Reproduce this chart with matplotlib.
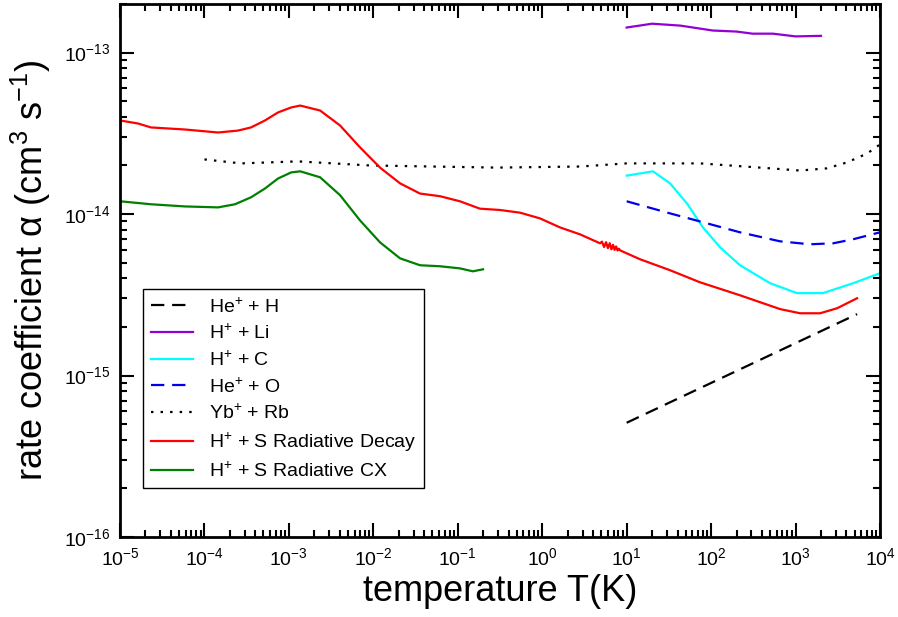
import math
import matplotlib
matplotlib.use("Agg")
import matplotlib.pyplot as plt
from matplotlib.ticker import FixedLocator, NullFormatter, FuncFormatter

plt.rcParams['font.family'] = ['Liberation Sans', 'DejaVu Sans']
plt.rcParams['mathtext.fontset'] = 'custom'
plt.rcParams['mathtext.rm'] = 'Liberation Sans'
plt.rcParams['mathtext.it'] = 'Liberation Sans:italic'
plt.rcParams['mathtext.bf'] = 'Liberation Sans:bold'

# He+ + H
T_heh = [10, 5350]
a_heh = [5.1e-16, 2.4e-15]

# H+ + Li
T_li = [10, 20, 43, 105, 200, 310, 540, 1000, 2000]
a_li = [1.43e-13, 1.51e-13, 1.47e-13, 1.37e-13, 1.35e-13, 1.31e-13, 1.31e-13, 1.26e-13, 1.27e-13]

# H+ + C
T_c = [10, 20.5, 32.6, 52, 80, 128, 220, 500, 1040, 2110, 4800, 10000]
a_c = [1.73e-14, 1.84e-14, 1.55e-14, 1.16e-14, 8.27e-15, 6.22e-15, 4.82e-15, 3.73e-15, 3.24e-15,
       3.24e-15, 3.73e-15, 4.30e-15]

# He+ + O
T_o = [10, 32.6, 74, 220, 655, 1480, 2780, 4800, 10000]
a_o = [1.20e-14, 1.01e-14, 9.0e-15, 7.71e-15, 6.78e-15, 6.50e-15, 6.59e-15, 6.98e-15, 7.71e-15]

# Yb+ + Rb
T_yb = [1e-4, 2.7e-4, 1.28e-3, 9.1e-3, 0.29, 2.8, 10, 74, 167, 500, 1130, 2360, 4080, 7030, 10000]
a_yb = [2.18e-14, 2.06e-14, 2.12e-14, 2.0e-14, 1.94e-14, 1.97e-14, 2.06e-14, 2.06e-14, 2.0e-14,
        1.92e-14, 1.86e-14, 1.92e-14, 2.09e-14, 2.37e-14, 2.70e-14]

# H+ + S radiative decay
T_rd = [1e-5, 1.63e-5, 2.33e-5, 5.88e-5, 1.45e-4, 2.5e-4, 3.56e-4, 5.21e-4, 7.43e-4, 1.06e-3,
        1.36e-3, 2.34e-3, 4.03e-3, 6.95e-3, 1.2e-2, 2.07e-2, 3.57e-2, 6.17e-2, 0.106, 0.183,
        0.316, 0.546, 0.942, 1.62, 2.80, 4.84,
        5.1, 5.4, 5.7, 6.0, 6.3, 6.6, 6.9, 7.2, 7.5, 7.8, 8.1,
        8.35, 14.4, 32.6, 73.9, 220, 655, 1130, 1950, 3100, 5350]
a_rd = [3.80e-14, 3.64e-14, 3.44e-14, 3.34e-14, 3.20e-14, 3.29e-14, 3.44e-14, 3.80e-14, 4.26e-14, 4.57e-14,
        4.70e-14, 4.38e-14, 3.54e-14, 2.59e-14, 1.94e-14, 1.55e-14, 1.34e-14, 1.29e-14, 1.20e-14, 1.08e-14,
        1.06e-14, 1.02e-14, 9.4e-15, 8.27e-15, 7.49e-15, 6.59e-15,
        6.75e-15, 6.25e-15, 6.7e-15, 6.15e-15, 6.6e-15, 6.05e-15, 6.45e-15, 6.0e-15, 6.3e-15, 5.95e-15, 6.1e-15,
        5.96e-15, 5.25e-15, 4.49e-15, 3.78e-15, 3.14e-15, 2.58e-15, 2.43e-15, 2.43e-15, 2.61e-15, 3.01e-15]

# H+ + S radiative CX
T_cx = [1e-5, 2.33e-5, 5.88e-5, 1.45e-4, 2.3e-4, 3.56e-4, 5.21e-4, 7.43e-4, 1.06e-3, 1.36e-3,
        2.34e-3, 4.03e-3, 6.95e-3, 1.2e-2, 2.07e-2, 3.57e-2, 6.17e-2, 0.106, 0.151, 0.199]
a_cx = [1.20e-14, 1.15e-14, 1.115e-14, 1.10e-14, 1.15e-14, 1.27e-14, 1.44e-14, 1.66e-14, 1.81e-14, 1.84e-14,
        1.69e-14, 1.31e-14, 9.14e-15, 6.68e-15, 5.32e-15, 4.82e-15, 4.75e-15, 4.61e-15, 4.42e-15, 4.55e-15]

# axis decades
x_decades = list(range(-5, 5))
y_decades = list(range(-16, -12))

fig = plt.figure(figsize=(8.98, 6.17), dpi=100)
ax = fig.add_axes([120 / 898, 1 - 537 / 617, 760 / 898, 533 / 617])

lw = 1.6
ax.plot(T_heh, a_heh, color='black', lw=lw, ls=(0, (6.0, 3.5)), label='He$^{+}$ + H')
ax.plot(T_li, a_li, color='#9400d3', lw=lw, label='H$^{+}$ + Li')
ax.plot(T_c, a_c, color='cyan', lw=lw, label='H$^{+}$ + C')
ax.plot(T_o, a_o, color='#0000ee', lw=lw, ls=(0, (6.0, 3.5)), label='He$^{+}$ + O')
ax.plot(T_yb, a_yb, color='black', lw=lw, ls=(0, (1.1, 3.2)), label='Yb$^{+}$ + Rb')
ax.plot(T_rd, a_rd, color='red', lw=lw, label='H$^{+}$ + S Radiative Decay')
ax.plot(T_cx, a_cx, color='green', lw=lw, label='H$^{+}$ + S Radiative CX')

ax.set_xscale('log')
ax.set_yscale('log')
ax.set_xlim(1e-5, 1e4)
ax.set_ylim(1e-16, 2e-13)

x_major = [10.0 ** d for d in x_decades]
y_major = [10.0 ** d for d in y_decades]
x_minor = [m * 10.0 ** d for d in x_decades[:-1] for m in range(2, 10)]
y_minor = [m * 10.0 ** d for d in y_decades for m in range(2, 10) if m * 10.0 ** d <= 2e-13]

fmt = FuncFormatter(lambda v, p: '10$^{%d}$' % round(math.log10(v)))
ax.xaxis.set_major_locator(FixedLocator(x_major))
ax.yaxis.set_major_locator(FixedLocator(y_major))
ax.xaxis.set_minor_locator(FixedLocator(x_minor))
ax.yaxis.set_minor_locator(FixedLocator(y_minor))
ax.xaxis.set_major_formatter(fmt)
ax.yaxis.set_major_formatter(fmt)
ax.xaxis.set_minor_formatter(NullFormatter())
ax.yaxis.set_minor_formatter(NullFormatter())

ax.tick_params(which='both', direction='in', top=True, right=True, width=1.5, labelsize=14)
ax.tick_params(which='major', length=10, pad=7)
ax.tick_params(which='minor', length=5)
for s in ax.spines.values():
    s.set_linewidth(2)

ax.set_xlabel('temperature T(K)', fontsize=26, labelpad=4)
ax.set_ylabel('rate coefficient α (cm$^{3}$ s$^{-1}$)', fontsize=26)
ax.yaxis.set_label_coords(-0.088, 0.5)

leg = ax.legend(loc='upper left', bbox_to_anchor=(0.030, 0.465), fontsize=14,
                fancybox=False, edgecolor='black', framealpha=1, borderaxespad=0,
                handlelength=2.2, labelspacing=0.38, borderpad=0.4)
leg.get_frame().set_linewidth(1.0)

fig.savefig('out.png', dpi=100)
